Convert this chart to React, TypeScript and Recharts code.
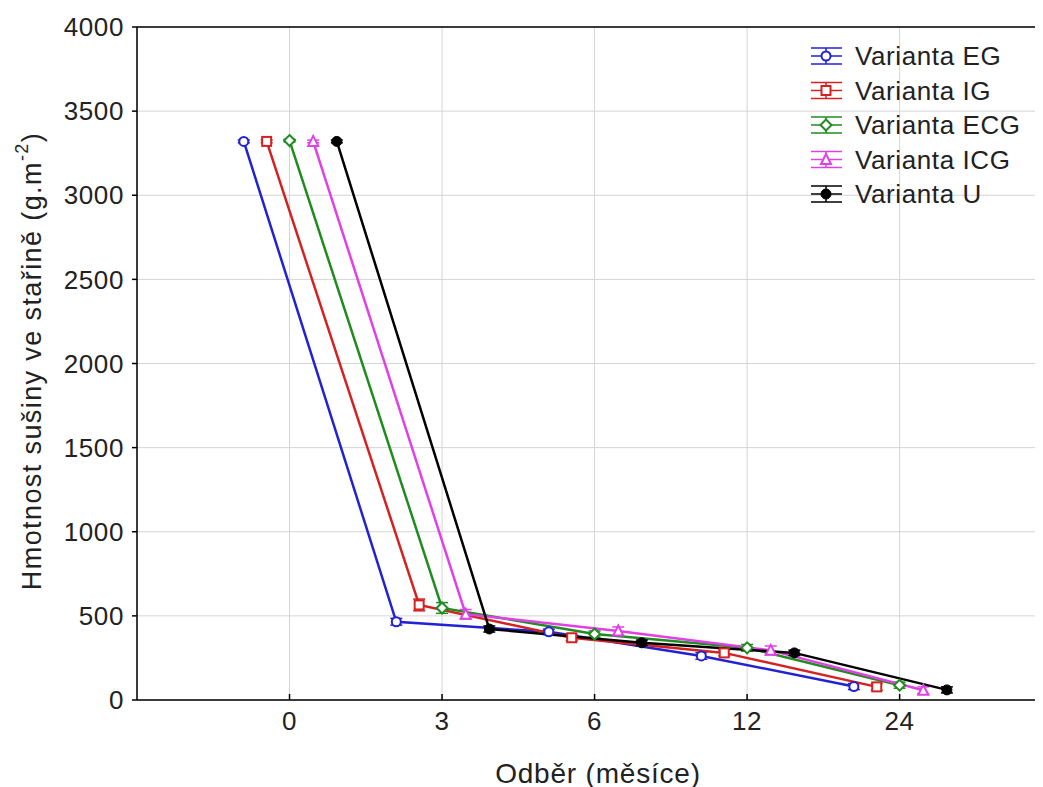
import React from "react";
import {
  LineChart,
  Line,
  XAxis,
  YAxis,
  CartesianGrid,
  ErrorBar,
  ReferenceLine,
  Label,
} from "recharts";

// Sampling times (months) shown on the x axis
const categories = ["0", "3", "6", "12", "24"];

// Mean dry mass of litter (g.m-2) per variant at each sampling
const egValues = [3320, 465, 405, 262, 80];
const igValues = [3320, 565, 370, 280, 78];
const ecgValues = [3325, 547, 392, 310, 88];
const icgValues = [3320, 510, 410, 295, 58];
const uValues = [3320, 422, 340, 280, 60];

// Error bar half-widths
const egErr = [8, 20, 16, 20, 18];
const igErr = [8, 35, 18, 18, 20];
const ecgErr = [8, 32, 18, 20, 18];
const icgErr = [8, 28, 24, 26, 20];
const uErr = [8, 18, 16, 16, 18];

const yTicks = [0, 500, 1000, 1500, 2000, 2500, 3000, 3500, 4000];

const FONT = "'Liberation Sans', Arial, sans-serif";

type Shape = "circle" | "square" | "diamond" | "triangle" | "dot";

interface SeriesDef {
  name: string;
  color: string;
  values: number[];
  err: number[];
  shift: number;
  shape: Shape;
}

const series: SeriesDef[] = [
  { name: "Varianta EG", color: "#2222d4", values: egValues, err: egErr, shift: -0.3, shape: "circle" },
  { name: "Varianta IG", color: "#d42222", values: igValues, err: igErr, shift: -0.15, shape: "square" },
  { name: "Varianta ECG", color: "#1f8c1f", values: ecgValues, err: ecgErr, shift: 0, shape: "diamond" },
  { name: "Varianta ICG", color: "#e040e6", values: icgValues, err: icgErr, shift: 0.155, shape: "triangle" },
  { name: "Varianta U", color: "#000000", values: uValues, err: uErr, shift: 0.31, shape: "dot" },
];

const toPoints = (s: SeriesDef) =>
  s.values.map((v, i) => ({ x: i + s.shift, y: v, err: s.err[i] }));

function Marker({ cx, cy, shape, color }: { cx: number; cy: number; shape: Shape; color: string }) {
  const r = 4.5;
  const common = { stroke: color, strokeWidth: 2, fill: "#fff" };
  switch (shape) {
    case "circle":
      return <circle cx={cx} cy={cy} r={r} {...common} />;
    case "square":
      return <rect x={cx - r} y={cy - r} width={2 * r} height={2 * r} {...common} />;
    case "diamond":
      return (
        <polygon
          points={`${cx},${cy - r - 1} ${cx + r + 1},${cy} ${cx},${cy + r + 1} ${cx - r - 1},${cy}`}
          {...common}
        />
      );
    case "triangle":
      return (
        <polygon
          points={`${cx},${cy - r - 1} ${cx + r + 0.5},${cy + r} ${cx - r - 0.5},${cy + r}`}
          {...common}
        />
      );
    default:
      return <circle cx={cx} cy={cy} r={r + 0.5} fill={color} stroke={color} strokeWidth={1} />;
  }
}

// Legend drawn as an overlay in the upper right of the plot
function LegendBox() {
  const rowGap = 34.5;
  return (
    <svg
      width={240}
      height={180}
      style={{ position: "absolute", left: 792, top: 32, overflow: "visible" }}
    >
      {series.map((s, i) => {
        const cy = 16 + i * rowGap;
        const cx = 26;
        return (
          <g key={s.name}>
            <line x1={11} x2={42} y1={cy - 8} y2={cy - 8} stroke={s.color} strokeWidth={1.5} />
            <line x1={11} x2={42} y1={cy} y2={cy} stroke={s.color} strokeWidth={1.5} />
            <line x1={11} x2={42} y1={cy + 8} y2={cy + 8} stroke={s.color} strokeWidth={1.5} />
            <line x1={cx} x2={cx} y1={cy - 8} y2={cy + 8} stroke={s.color} strokeWidth={1.5} />
            <Marker cx={cx} cy={cy} shape={s.shape} color={s.color} />
            <text
              x={55}
              y={cy}
              dy="0.36em"
              fontFamily={FONT}
              fontSize={26}
              letterSpacing={0.6}
              fill="#222"
            >
              {s.name}
            </text>
          </g>
        );
      })}
    </svg>
  );
}

export default function App() {
  return (
    <div style={{ position: "relative", width: 1035, height: 779 }}>
      <LineChart
        width={1035}
        height={779}
        margin={{ top: 19, right: 0, bottom: 0, left: 0 }}
        style={{ fontFamily: FONT }}
      >
        <CartesianGrid stroke="#d4d4d4" strokeWidth={1} />
        <XAxis
          type="number"
          dataKey="x"
          domain={[-1, 4.94]}
          ticks={[0, 1, 2, 3, 4]}
          tickFormatter={(v: number) => categories[v] ?? ""}
          allowDataOverflow
          height={87}
          stroke="#000"
          strokeWidth={1.5}
          tickSize={-6}
          tickMargin={18}
          tick={{ fontSize: 26, fill: "#222", fontFamily: FONT, letterSpacing: 0.6 }}
        >
          <Label
            content={() => (
              <text
                x={590}
                y={765}
                textAnchor="middle"
                dominantBaseline="central"
                fontFamily={FONT}
                fontSize={28}
                letterSpacing={0.8}
                fill="#222"
              >
                Odběr (měsíce)
              </text>
            )}
          />
        </XAxis>
        <YAxis
          type="number"
          domain={[0, 4000]}
          ticks={yTicks}
          width={129}
          stroke="#000"
          strokeWidth={1.5}
          tickSize={5}
          tickMargin={8}
          tick={{ fontSize: 26, fill: "#222", fontFamily: FONT, letterSpacing: 0.6 }}
        >
          <Label
            content={() => (
              <text
                transform="translate(24,353) rotate(-90)"
                textAnchor="middle"
                dominantBaseline="central"
                fontFamily={FONT}
                fontSize={27}
                letterSpacing={1.4}
                fill="#222"
              >
                Hmotnost sušiny ve stařině (g.m
                <tspan dy={-10} fontSize={18}>
                  -2
                </tspan>
                <tspan dy={10}>)</tspan>
              </text>
            )}
          />
        </YAxis>
        <ReferenceLine y={4000} stroke="#000" strokeWidth={1.5} />
        {series.map((s) => (
          <Line
            key={s.name}
            name={s.name}
            data={toPoints(s)}
            dataKey="y"
            stroke={s.color}
            strokeWidth={2.5}
            isAnimationActive={false}
            dot={(p: any) => (
              <Marker key={`${s.name}-${p.index}`} cx={p.cx} cy={p.cy} shape={s.shape} color={s.color} />
            )}
            activeDot={false}
          >
            <ErrorBar dataKey="err" direction="y" width={6} stroke={s.color} strokeWidth={1.5} />
          </Line>
        ))}
      </LineChart>
      <LegendBox />
    </div>
  );
}
